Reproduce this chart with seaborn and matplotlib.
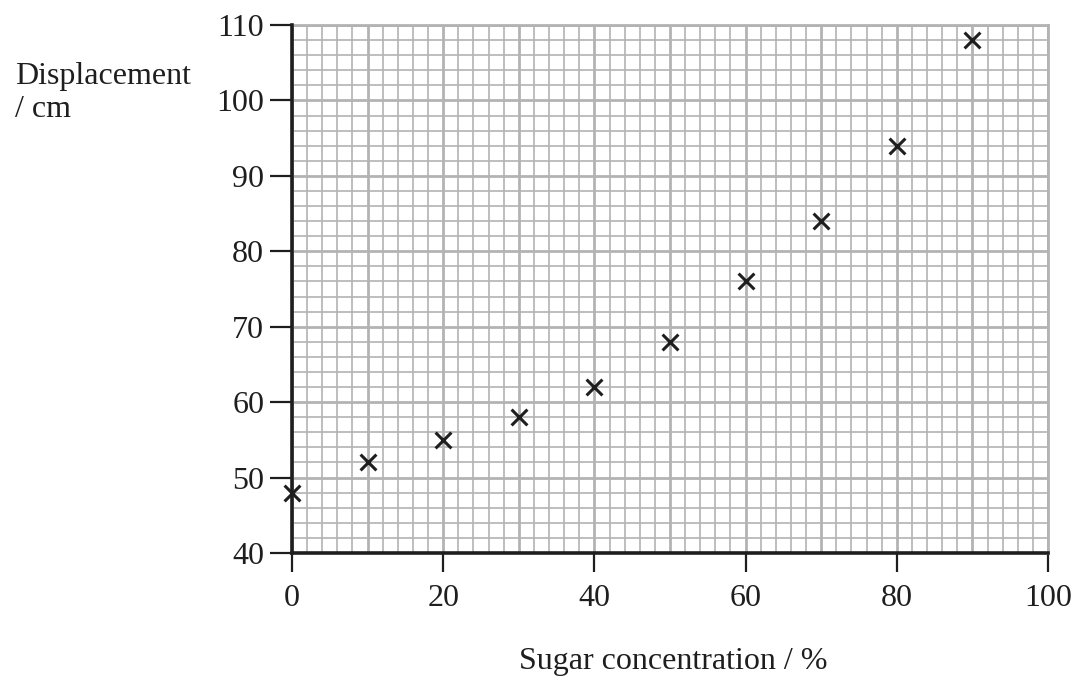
import matplotlib
matplotlib.use("Agg")
import matplotlib.pyplot as plt
import numpy as np
import pandas as pd
import seaborn as sns

sugar_pct = [0, 10, 20, 30, 40, 50, 60, 70, 80, 90]
displacement_cm = [48, 52, 55, 58, 62, 68, 76, 84, 94, 108]
x_ticks = [0, 20, 40, 60, 80, 100]
y_ticks = [40, 50, 60, 70, 80, 90, 100, 110]

sns.set_theme(style="white")
plt.rcParams["font.family"] = ["Liberation Serif", "DejaVu Serif"]

GRID = "#b3b3b3"
INK = "#1e1e1e"
FS = 23

df = pd.DataFrame({"sugar": sugar_pct, "disp": displacement_cm})

fig = plt.figure(figsize=(10.77, 6.81), dpi=100)
ax = fig.add_axes([292 / 1077, 1 - 553 / 681, (1048 - 292) / 1077, (553 - 25) / 681])

# graph-paper grid: fine every 2, bold every 10
for v in np.arange(0, 101, 2):
    ax.axvline(v, color=GRID, lw=2.0 if v % 10 == 0 else 1.2, zorder=0)
for v in np.arange(40, 111, 2):
    ax.axhline(v, color=GRID, lw=2.0 if v % 10 == 0 else 1.2, zorder=0)

sns.scatterplot(data=df, x="sugar", y="disp", marker="x", s=130,
                color=INK, linewidth=2.2, ax=ax, zorder=5, legend=False,
                clip_on=False)

ax.set_xlim(0, 100)
ax.set_ylim(40, 110)
ax.set_xticks(x_ticks)
ax.set_yticks(y_ticks)
ax.tick_params(axis="both", labelsize=FS, colors=INK, width=1.6, direction="out")
ax.tick_params(axis="x", length=14, pad=8)
ax.tick_params(axis="y", length=16, pad=4)
ax.tick_params(axis="both", which="both", bottom=True, left=True)

for side in ("left", "bottom"):
    ax.spines[side].set_color(INK)
    ax.spines[side].set_linewidth(2.6)
    ax.spines[side].set_zorder(4)
for side in ("top", "right"):
    ax.spines[side].set_color(GRID)
    ax.spines[side].set_linewidth(2.0)

ax.set_xlabel("")
ax.set_ylabel("")
fig.text(673 / 1077, 1 - 669 / 681, "Sugar concentration / %",
         fontsize=FS, color=INK, ha="center", va="baseline")
fig.text(15 / 1077, 1 - 117 / 681, "Displacement\n/ cm", fontsize=FS,
         color=INK, ha="left", va="baseline", linespacing=1.2)

fig.savefig("out.png", dpi=100)
